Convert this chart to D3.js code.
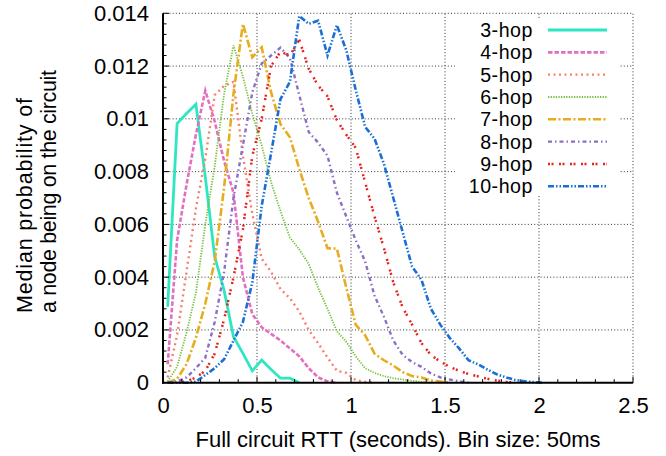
<!DOCTYPE html>
<html><head><meta charset="utf-8">
<script src="https://cdn.jsdelivr.net/npm/d3@7"></script>
<style>html,body{margin:0;padding:0;background:#fff;}svg{display:block;font-family:"Liberation Sans",Arial,Helvetica,sans-serif;}</style>
</head><body>
<script>
// Bin centres (seconds), 50 ms bins
const bins = [0.025,0.075,0.125,0.175,0.225,0.275,0.325,0.375,0.425,0.475,0.525,0.575,0.625,0.675,0.725,0.775,0.825,0.875,0.925,0.975,1.025,1.075,1.125,1.175,1.225,1.275,1.325,1.375,1.425,1.475,1.525,1.575,1.625,1.675,1.725,1.775,1.825,1.875,1.925,1.975,2.025,2.075];

const hop3  = [0.00288,0.00982,0.0102,0.01055,0.0078,0.00477,0.0035,0.00174,0.00111,0.00045,0.00086,0.0005,0.00017,0.00017,0];
const hop4  = [0.0007,0.0054,0.0075,0.0094,0.01107,0.0099,0.0084,0.0072,0.004,0.0026,0.0021,0.00185,0.0016,0.0013,0.001,0.00055,0.0002,0.00005,0];
const hop5  = [0.0002,0.0018,0.0042,0.0066,0.0085,0.0109,0.01125,0.0114,0.0086,0.0064,0.0047,0.0042,0.00355,0.0032,0.0027,0.002,0.0015,0.00095,0.00045,0.00037,0.0001,0.00003,0];
const hop6  = [0.00005,0.0006,0.0019,0.0034,0.006,0.0082,0.01095,0.01278,0.0116,0.0102,0.009,0.0076,0.0065,0.0055,0.00505,0.0045,0.0036,0.0028,0.00195,0.00155,0.001,0.00055,0.00037,0.00025,0.00017,0.00012,0.00007,0.00003,0];
const hop7  = [0,0.00015,0.0007,0.0017,0.003,0.0046,0.0074,0.01095,0.0136,0.01233,0.01271,0.011,0.0098,0.0093,0.0081,0.007,0.0061,0.0051,0.00508,0.0036,0.0022,0.0018,0.0011,0.00085,0.00065,0.0004,0.00025,0.0002,0.00008,0.00004,0];
const hop8  = [0,0.00005,0.0002,0.00055,0.00095,0.0023,0.0042,0.007,0.009,0.011,0.0121,0.0124,0.0127,0.0123,0.0109,0.0095,0.0091,0.0086,0.0072,0.0063,0.0054,0.0046,0.0033,0.0025,0.0016,0.00105,0.00078,0.0006,0.00035,0.0002,0.00012,0.00005,0];
const hop9  = [0,0,0.00005,0.0002,0.00045,0.0011,0.0024,0.004,0.0058,0.0086,0.01,0.012,0.01255,0.0124,0.013,0.0119,0.01126,0.01085,0.00995,0.0094,0.0089,0.0076,0.0063,0.0051,0.0038,0.00285,0.0022,0.0015,0.00105,0.0008,0.0006,0.00045,0.00033,0.00024,0.00015,0.00008,0.00003,0];
const hop10 = [0,0,0,0.00004,0.00029,0.00055,0.00089,0.0016,0.0023,0.0038,0.0067,0.0087,0.01075,0.0114,0.0139,0.0136,0.01372,0.0124,0.01355,0.0126,0.0111,0.0097,0.00925,0.0083,0.007,0.0057,0.0044,0.0039,0.0028,0.0022,0.0017,0.0013,0.00085,0.0007,0.0005,0.00032,0.0002,0.0001,0.00005,0.00002,0];

const seriesNames = ["3-hop","4-hop","5-hop","6-hop","7-hop","8-hop","9-hop","10-hop"];
const seriesValues = [hop3,hop4,hop5,hop6,hop7,hop8,hop9,hop10];
const colors = ["#2fe6c2","#e36fc0","#f8806e","#77c13a","#e6ad1f","#8b6fc6","#e8231c","#1a6fd6"];
const dashes = ["none","4.5,2","2,3.5","1.3,1.3","8,2.5,2,2.5","4,3,1.5,3","2,1.5,2,5.5","6,2,1.5,2,1.5,2"];
const widths = [2.8,2.6,2.4,1.8,2.6,2.4,2.5,2.6];

const xTicks = [0,0.5,1,1.5,2,2.5];
const xTickLabels = ["0","0.5","1","1.5","2","2.5"];
const yTicks = [0,0.002,0.004,0.006,0.008,0.01,0.012,0.014];
const yTickLabels = ["0","0.002","0.004","0.006","0.008","0.01","0.012","0.014"];

const W = 666, H = 456;
const L = 163, R = 633, T = 13.3, B = 382.7;
const FS = 22;

const svg = d3.select("body").append("svg").attr("width",W).attr("height",H);
const x = d3.scaleLinear().domain([0,2.5]).range([L,R]);
const y = d3.scaleLinear().domain([0,0.014]).range([B,T]);

// grid
const grid = svg.append("g").attr("stroke","#333").attr("stroke-width",1).attr("stroke-dasharray","1,2.2").attr("fill","none");
xTicks.slice(1).forEach(v=>grid.append("line").attr("x1",x(v)).attr("x2",x(v)).attr("y1",B).attr("y2",T));
yTicks.slice(1).forEach(v=>grid.append("line").attr("x1",L).attr("x2",R).attr("y1",y(v)).attr("y2",y(v)));

// curves
const line = d3.line().x((d,i)=>x(bins[i])).y(d=>y(d));
seriesValues.forEach((vals,si)=>{
  svg.append("path").datum(vals).attr("d",line).attr("fill","none")
    .attr("stroke",colors[si]).attr("stroke-width",widths[si])
    .attr("stroke-dasharray",dashes[si]).attr("stroke-linejoin","miter");
});

// legend
const lg = svg.append("g");
lg.append("rect").attr("x",455).attr("y",18).attr("width",165).attr("height",178).attr("fill","#fff");
seriesNames.forEach((n,i)=>{
  const cy = 30 + i*22.33;
  lg.append("text").attr("x",533).attr("y",cy).attr("dy","0.36em").attr("text-anchor","end")
    .attr("font-size",19.6).attr("letter-spacing","0.55px").attr("fill","#000").text(n);
  lg.append("line").attr("x1",548).attr("x2",607).attr("y1",cy).attr("y2",cy)
    .attr("stroke",colors[i]).attr("stroke-width",widths[i]).attr("stroke-dasharray",dashes[i]);
});

// axes
const xAxis = d3.axisBottom(x).tickValues(xTicks).tickFormat((d,i)=>xTickLabels[i]).tickSize(0).tickPadding(0);
const gx = svg.append("g").attr("transform",`translate(0,${B})`).call(xAxis);
gx.select(".domain").remove();
gx.selectAll("text").attr("font-size",FS).attr("fill","#000").attr("dy",null).attr("y",30.5).attr("font-family",null);

const yAxis = d3.axisLeft(y).tickValues(yTicks).tickFormat((d,i)=>yTickLabels[i]).tickSize(0).tickPadding(14);
const gy = svg.append("g").attr("transform",`translate(${L},0)`).call(yAxis);
gy.select(".domain").remove();
gy.selectAll("text").attr("font-size",FS).attr("fill","#000").attr("font-family",null);

// inner ticks
const tk = svg.append("g").attr("stroke","#000").attr("stroke-width",1);
d3.range(0,0.01401,0.0004).forEach(v=>{
  const major = Math.abs(v/0.002 - Math.round(v/0.002))<1e-6;
  tk.append("line").attr("x1",L).attr("x2",L+(major?6:3.5)).attr("y1",y(v)).attr("y2",y(v));
});
d3.range(0,2.501,0.1).forEach(v=>{
  const major = Math.abs(v/0.5 - Math.round(v/0.5))<1e-6;
  tk.append("line").attr("x1",x(v)).attr("x2",x(v)).attr("y1",B).attr("y2",B-(major?6:3.5));
});
svg.append("line").attr("x1",L).attr("x2",L).attr("y1",T).attr("y2",B+1).attr("stroke","#000").attr("stroke-width",2);
svg.append("line").attr("x1",L-1).attr("x2",R).attr("y1",B).attr("y2",B).attr("stroke","#000").attr("stroke-width",2);

// axis labels
svg.append("text").attr("x",(L+R)/2).attr("y",446.5).attr("text-anchor","middle").attr("font-size",FS).attr("fill","#000")
  .text("Full circuit RTT (seconds). Bin size: 50ms");
const yl = svg.append("g");
yl.append("text").attr("transform","translate(31.5,313) rotate(-90)").attr("font-size",21.5).attr("fill","#000")
  .attr("textLength",215).attr("lengthAdjust","spacing").text("Median probability of");
yl.append("text").attr("transform","translate(55.5,313) rotate(-90)").attr("font-size",21.5).attr("fill","#000")
  .attr("textLength",243).attr("lengthAdjust","spacing").text("a node being on the circuit");
</script>
</body></html>
